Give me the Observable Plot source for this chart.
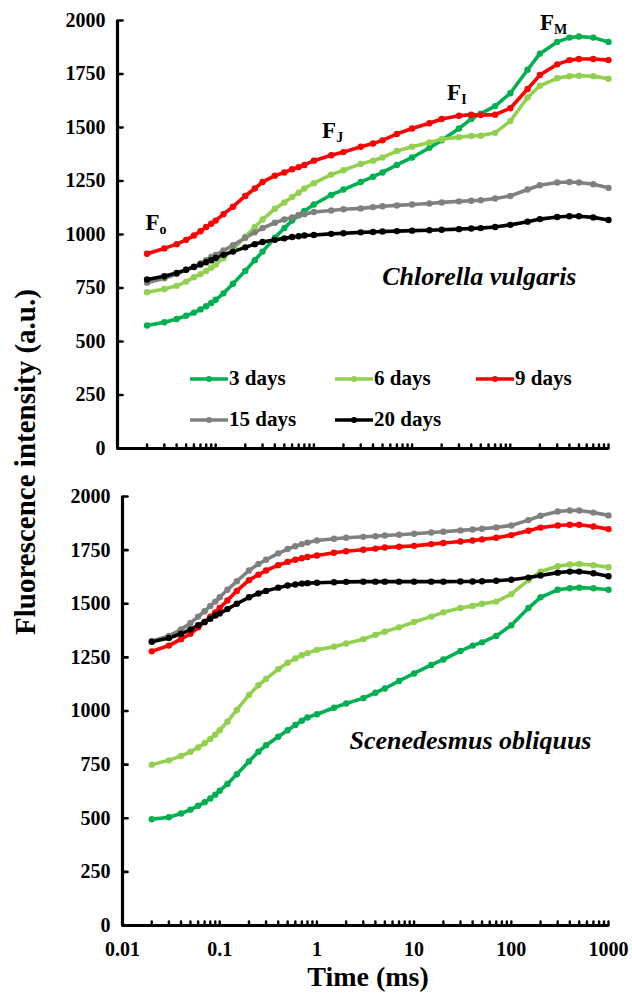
<!DOCTYPE html>
<html><head><meta charset="utf-8">
<script src="https://cdn.jsdelivr.net/npm/d3@7"></script>
<script src="https://cdn.jsdelivr.net/npm/@observablehq/plot@0.6"></script>
<style>
body{margin:0;background:#fff;}
#wrap{position:relative;width:632px;height:996px;font-family:"Liberation Serif","Tinos","Times New Roman",Times,"DejaVu Serif","Noto Serif",serif;font-weight:bold;color:#000;overflow:hidden;}
.abs{position:absolute;white-space:nowrap;}
.leg{position:absolute;display:flex;align-items:center;font-size:21px;line-height:1;}
.leg svg{margin-right:1px;}
</style></head><body><div id="wrap"></div>
<script>
// ---- data ----
const times = [0.02,0.03,0.04,0.05,0.06,0.07,0.08,0.09,0.1,0.12,0.15,0.2,0.25,0.3,0.4,0.5,0.6,0.7,0.8,1,1.5,2,3,4,5,7,10,15,20,30,40,50,70,100,150,200,300,400,500,700,1000];
const seriesNames = ["3 days","6 days","9 days","15 days","20 days"];
const seriesColors = ["#00B050","#92D050","#FF0000","#808080","#000000"];

// Chlorella vulgaris
const chlorella3  = [575,590,605,620,635,650,665,680,695,725,770,830,880,920,985,1030,1065,1090,1110,1140,1185,1210,1245,1270,1290,1325,1360,1405,1440,1495,1540,1565,1600,1660,1770,1845,1900,1920,1925,1920,1900];
const chlorella6  = [730,745,760,780,800,815,830,845,860,890,930,990,1035,1070,1120,1150,1175,1195,1215,1240,1280,1300,1330,1345,1360,1390,1410,1430,1445,1455,1460,1462,1475,1530,1640,1695,1730,1740,1742,1740,1728];
const chlorella9  = [910,935,955,975,995,1015,1035,1050,1065,1095,1130,1180,1215,1245,1275,1290,1305,1315,1325,1345,1370,1385,1410,1425,1440,1470,1495,1520,1540,1555,1560,1558,1560,1590,1680,1745,1795,1815,1820,1820,1815];
const chlorella15 = [775,795,815,835,850,865,880,895,905,925,950,985,1010,1030,1055,1070,1080,1090,1095,1105,1112,1118,1122,1128,1132,1136,1140,1145,1150,1155,1158,1160,1168,1180,1210,1230,1243,1245,1243,1235,1218];
const chlorella20 = [790,805,820,835,848,860,870,880,890,905,920,940,955,965,975,982,988,992,995,998,1003,1006,1010,1012,1014,1016,1018,1020,1022,1025,1028,1030,1035,1045,1060,1072,1082,1085,1085,1080,1068];

// Scenedesmus obliquus
const scenedesmus3  = [495,505,522,540,558,575,592,610,628,660,705,765,810,840,880,910,935,955,970,985,1015,1035,1060,1085,1105,1140,1175,1215,1240,1280,1305,1320,1350,1400,1480,1530,1565,1572,1575,1572,1565];
const scenedesmus6  = [750,770,790,810,830,850,870,890,910,950,1005,1075,1120,1150,1195,1225,1245,1260,1270,1285,1300,1315,1335,1355,1370,1390,1415,1440,1460,1480,1490,1500,1510,1545,1610,1650,1675,1683,1685,1680,1670];
const scenedesmus9  = [1278,1305,1335,1360,1390,1415,1440,1460,1480,1515,1560,1610,1635,1655,1680,1695,1705,1712,1718,1725,1738,1745,1752,1757,1762,1766,1770,1778,1783,1790,1795,1800,1808,1820,1840,1855,1865,1868,1868,1860,1848];
const scenedesmus15 = [1325,1350,1380,1410,1440,1465,1490,1510,1530,1565,1605,1655,1685,1705,1735,1755,1768,1778,1785,1795,1803,1808,1812,1815,1818,1822,1826,1832,1836,1842,1846,1850,1856,1865,1890,1910,1930,1935,1935,1925,1912];
const scenedesmus20 = [1323,1340,1360,1380,1400,1415,1430,1445,1455,1475,1500,1530,1548,1560,1575,1585,1590,1594,1596,1598,1600,1602,1603,1603,1603,1603,1603,1603,1603,1604,1604,1605,1607,1612,1622,1632,1645,1650,1650,1642,1628];

const yTicks = [0,250,500,750,1000,1250,1500,1750,2000];
const xTickLabels = [0.01,0.1,1,10,100,1000];
const xMinorTicks = [0.01,0.02,0.03,0.04,0.05,0.06,0.07,0.08,0.09,0.1,0.2,0.3,0.4,0.5,0.6,0.7,0.8,0.9,1,2,3,4,5,6,7,8,9,10,20,30,40,50,60,70,80,90,100,200,300,400,500,600,700,800,900,1000];
const speciesTop = "Chlorella vulgaris";
const speciesBottom = "Scenedesmus obliquus";
const phaseNotes = [
  {main:"F", sub:"o", t:0.0227, v:1056},
  {main:"F", sub:"J", t:1.43, v:1486},
  {main:"F", sub:"I", t:26.8, v:1664},
  {main:"F", sub:"M", t:237, v:1990}
];
const yLabel = "Fluorescence intensity (a.u.)";
const xLabel = "Time (ms)";

// ---- build ----
function toRows(arrs){
  return arrs.flatMap((vals,i)=>vals.map((v,j)=>({t:times[j], v, s:seriesNames[i]})));
}
const topRows = toRows([chlorella3,chlorella6,chlorella9,chlorella15,chlorella20]);
const botRows = toRows([scenedesmus3,scenedesmus6,scenedesmus9,scenedesmus15,scenedesmus20]);

const tickShape = {draw(ctx, l){ ctx.moveTo(0,0); ctx.lineTo(0,-l); }};
const FONT = '"Liberation Serif","Tinos","Times New Roman",Times,"DejaVu Serif","Noto Serif",serif';

function panel({data, height, marginTop, marginBottom, marginLeft, showX, species, spDx, spDy, notes}){
  const marks = [
    Plot.line(data, {x:"t", y:"v", z:"s", stroke:"s", strokeWidth:3.6}),
    Plot.dot(data, {x:"t", y:"v", fill:"s", r:3.2}),
    Plot.ruleX([0.01], {strokeWidth:3.2, stroke:"black"}),
    Plot.ruleY([0], {strokeWidth:3.2, stroke:"black"}),
    Plot.vector(yTicks, {y:d=>d, frameAnchor:"left", length:5, rotate:90, anchor:"start", shape:tickShape, strokeWidth:2.6, stroke:"black"}),
    Plot.vector(xMinorTicks, {x:d=>d, frameAnchor:"bottom", length:4, rotate:0, anchor:"start", shape:tickShape, strokeWidth:2.4, stroke:"black"}),
    Plot.axisY({ticks:yTicks, tickSize:0, tickPadding:12, tickFormat:d=>String(d), fontSize:20, fontWeight:"bold", fontFamily:FONT, label:null}),
    Plot.text([species], {frameAnchor:"top-right", dx:spDx, dy:spDy, text:d=>d, fontSize:26, fontStyle:"italic", fontWeight:"bold", fontFamily:FONT, textAnchor:"end", lineAnchor:"middle"})
  ];
  if (showX) marks.push(Plot.axisX({ticks:xTickLabels, tickSize:0, tickPadding:16, tickFormat:d=>String(d), fontSize:20, fontWeight:"bold", fontFamily:FONT, label:null}));
  else marks.push(Plot.axisX({ticks:[], label:null}));
  if (notes){
    marks.push(Plot.text(notes, {x:"t", y:"v", text:"main", fontSize:23, fontWeight:"bold", fontFamily:FONT}));
    marks.push(Plot.text(notes, {x:"t", y:"v", text:"sub", fontSize:14, fontWeight:"bold", fontFamily:FONT, textAnchor:"start", dx:7, dy:7}));
  }
  return Plot.plot({
    width:632, height, marginTop, marginBottom, marginLeft, marginRight:24,
    style:{fontFamily:FONT, fontWeight:"bold", fontSize:"20px", background:"transparent", color:"black", overflow:"visible"},
    x:{type:"log", domain:[0.01,1000]},
    y:{domain:[0,2000]},
    color:{domain:seriesNames, range:seriesColors},
    marks
  });
}

const wrap = document.getElementById("wrap");
const top1 = panel({data:topRows, height:470, marginTop:20, marginBottom:22, marginLeft:117, showX:false, species:speciesTop, spDx:-32, spDy:256, notes:phaseNotes});
top1.style.position="absolute"; top1.style.left="0px"; top1.style.top="0px";
wrap.appendChild(top1);
const bot1 = panel({data:botRows, height:526, marginTop:26, marginBottom:71, marginLeft:122, showX:true, species:speciesBottom, spDx:-17, spDy:244, notes:null});
bot1.style.position="absolute"; bot1.style.left="0px"; bot1.style.top="470px";
wrap.appendChild(bot1);

// legend (inside top panel)
const legPos = [[190,379],[335,379],[476,379],[190,420],[335,420]];
seriesNames.forEach((name,i)=>{
  const d = document.createElement("div");
  d.className="leg";
  d.style.left = legPos[i][0]+"px";
  d.style.top = (legPos[i][1]-11)+"px";
  d.innerHTML = `<svg width="38" height="12"><line x1="0" y1="6" x2="38" y2="6" stroke="${seriesColors[i]}" stroke-width="3.5"/><circle cx="19" cy="6" r="3" fill="${seriesColors[i]}"/></svg><span>${name}</span>`;
  wrap.appendChild(d);
});

// axis titles
const yl = document.createElement("div");
yl.className="abs"; yl.textContent=yLabel;
yl.style.cssText += "left:25px;top:462px;font-size:29px;transform:translate(-50%,-50%) rotate(-90deg);";
wrap.appendChild(yl);
const xl = document.createElement("div");
xl.className="abs"; xl.textContent=xLabel;
xl.style.cssText += "left:368px;top:977px;font-size:28px;transform:translate(-50%,-50%);";
wrap.appendChild(xl);
</script></body></html>
